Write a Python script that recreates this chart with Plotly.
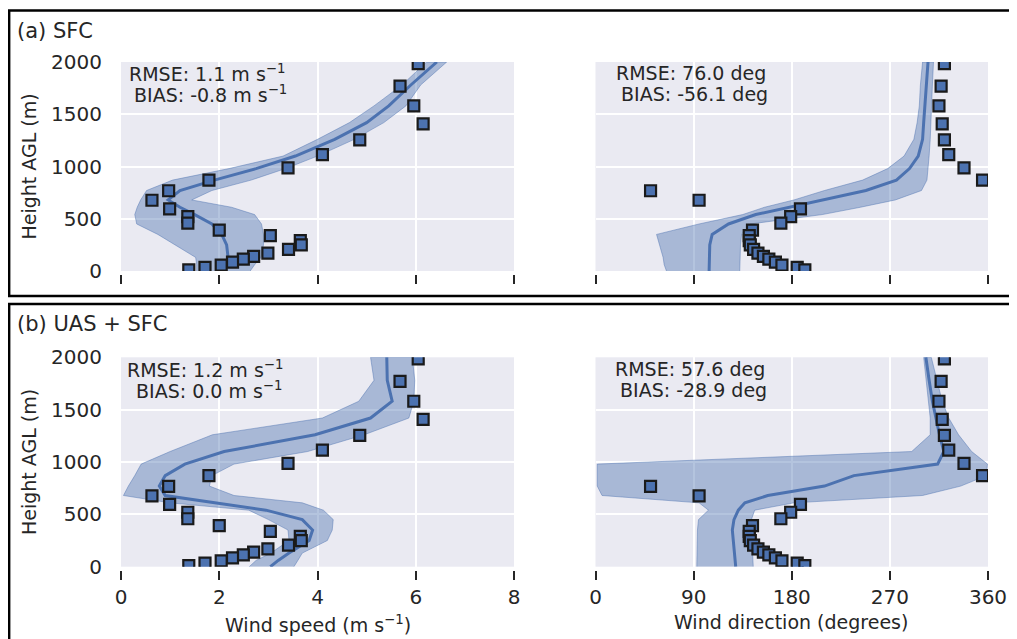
import plotly.graph_objects as go

# ---------------- data ----------------
# model levels (m AGL)
model_h = [0, 60, 130, 250, 350, 450, 540, 610, 680, 770, 870, 980, 1100, 1260, 1420, 1580, 1780, 2000]

# (a) SFC : wind speed (m/s)
sfc_spd_mean = [2.10, 2.16, 2.18, 2.15, 2.05, 1.85, 1.50, 1.20, 0.96, 1.20, 1.90, 2.75, 3.55, 4.35, 5.00, 5.45, 5.90, 6.43]
sfc_spd_lo = [1.54, 1.54, 1.52, 1.10, 0.75, 0.32, 0.28, 0.33, 0.40, 0.52, 1.05, 2.20, 3.30, 4.00, 4.65, 5.15, 5.72, 6.22]
sfc_spd_hi = [2.63, 2.72, 2.85, 2.90, 2.90, 2.86, 2.72, 2.25, 1.44, 1.85, 2.65, 3.35, 4.00, 4.75, 5.35, 5.80, 6.10, 6.63]
# (a) SFC : wind direction (deg)
sfc_dir_mean = [104.2, 104.2, 104.5, 104.8, 107.0, 122.0, 147.0, 178.0, 208.0, 248.0, 276.0, 288.0, 296.0, 300.0, 301.0, 302.0, 303.0, 305.0]
sfc_dir_lo = [65.1, 63.0, 62.0, 59.0, 56.0, 95.0, 135.0, 155.0, 182.0, 210.0, 245.0, 268.0, 283.0, 292.0, 295.0, 297.0, 298.0, 300.0]
sfc_dir_hi = [132.3, 132.3, 132.5, 133.0, 134.0, 142.0, 208.0, 243.0, 275.0, 299.0, 304.0, 305.0, 306.0, 307.0, 308.0, 308.5, 309.0, 310.0]

# (b) UAS + SFC : wind speed (m/s)
uas_spd_mean = [3.04, 3.20, 3.42, 3.83, 3.90, 3.69, 2.95, 1.95, 0.90, 0.78, 0.90, 1.30, 2.10, 3.95, 5.08, 5.52, 5.42, 5.41]
uas_spd_lo = [2.61, 2.75, 3.05, 3.42, 3.40, 3.00, 2.60, 1.00, 0.05, 0.15, 0.28, 0.41, 1.00, 1.86, 4.10, 4.84, 5.15, 5.08]
uas_spd_hi = [3.52, 3.60, 3.69, 4.20, 4.30, 4.32, 4.12, 3.69, 2.30, 1.80, 1.85, 2.30, 3.80, 4.95, 5.86, 5.96, 5.98, 5.93]
# (b) UAS + SFC : wind direction (deg)
uas_dir_mean = [128.6, 128.0, 127.5, 126.5, 125.5, 127.0, 131.0, 137.0, 158.0, 210.0, 237.0, 313.8, 319.5, 315.5, 312.0, 309.0, 306.0, 303.0]
uas_dir_lo = [92.9, 92.9, 92.9, 92.9, 93.5, 94.5, 103.6, 95.0, 6.0, 1.6, 1.6, 1.6, 290.0, 307.0, 307.0, 305.5, 303.5, 301.0]
uas_dir_hi = [144.7, 144.5, 144.0, 143.5, 143.0, 143.0, 146.0, 182.0, 300.0, 335.0, 358.5, 359.5, 345.0, 333.0, 324.0, 318.0, 313.0, 308.0]

# observations
obs_h = [1985, 1770, 1580, 1407, 1254, 1113, 986, 870, 768, 677, 595, 520, 458, 392, 338, 290, 250, 206, 171, 139, 113, 85, 56, 34, 11]
obs_speed = [6.05, 5.68, 5.96, 6.15, 4.86, 4.10, 3.40, 1.79, 0.97, 0.63, 0.99, 1.36, 1.36, 2.00, 3.04, 3.65, 3.67, 3.41, 2.99, 2.70, 2.49, 2.27, 2.04, 1.71, 1.38]
obs_dir = [320, 317, 315, 318, 320, 324, 338, 355, 50.5, 95, 188, 179, 170, 144, 141, 141, 142, 145, 149, 154, 159, 165, 171, 185, 192]

# statistics text
stats_text = [
    ("RMSE: 1.1 m s<sup>−1</sup>", "BIAS: -0.8 m s<sup>−1</sup>"),
    ("RMSE: 76.0 deg", "BIAS: -56.1 deg"),
    ("RMSE: 1.2 m s<sup>−1</sup>", "BIAS: 0.0 m s<sup>−1</sup>"),
    ("RMSE: 57.6 deg", "BIAS: -28.9 deg"),
]
panel_titles = ["(a) SFC", "(b) UAS + SFC"]
speed_ticks = [0, 2, 4, 6, 8]
dir_ticks = [0, 90, 180, 270, 360]
height_ticks = [0, 500, 1000, 1500, 2000]

# ---------------- layout helpers ----------------
# the page body has an 8px margin, so the figure starts at (8, 8) in the window
OFF = 8
W, H = 1017 - OFF, 639 - OFF
def fx(px):
    return (px - OFF) / W
def fy(py):
    return 1 - (py - OFF) / H

BLUE = "#4C72B0"
BAND = "rgba(76,114,176,0.42)"
BAND_EDGE = "rgba(76,114,176,0.45)"
TXT = "#262626"
FONT = "DejaVu Sans"

fig = go.Figure()

panels = [
    ("x", "y", sfc_spd_mean, sfc_spd_lo, sfc_spd_hi, obs_speed),
    ("x2", "y2", sfc_dir_mean, sfc_dir_lo, sfc_dir_hi, obs_dir),
    ("x3", "y3", uas_spd_mean, uas_spd_lo, uas_spd_hi, obs_speed),
    ("x4", "y4", uas_dir_mean, uas_dir_lo, uas_dir_hi, obs_dir),
]
for xa, ya, mean, lo, hi, obs in panels:
    fig.add_trace(go.Scatter(
        x=list(lo) + list(hi)[::-1], y=list(model_h) + list(model_h)[::-1],
        mode="lines", fill="toself", fillcolor=BAND,
        line=dict(color=BAND_EDGE, width=1),
        xaxis=xa, yaxis=ya, showlegend=False, hoverinfo="skip"))
    fig.add_trace(go.Scatter(
        x=mean, y=model_h, mode="lines", line=dict(color=BLUE, width=3),
        xaxis=xa, yaxis=ya, showlegend=False))
    fig.add_trace(go.Scatter(
        x=obs, y=obs_h, mode="markers",
        marker=dict(symbol="square", size=11, color=BLUE,
                    line=dict(color="#1a1a1a", width=2.2)),
        xaxis=xa, yaxis=ya, showlegend=False))

xdom_l = [fx(121), fx(514)]
xdom_r = [fx(595.5), fx(988)]
ydom_t = [fy(271), fy(62)]
ydom_b = [fy(566.7), fy(357.3)]

def xax(dom, rng, ticks, pos, labels):
    return dict(domain=dom, range=rng, tickvals=ticks, anchor="free", position=pos,
                automargin=False,
                showgrid=True, gridcolor="white", gridwidth=1.6, zeroline=False,
                showline=False, ticks="outside", ticklen=9, tickwidth=2,
                tickcolor=TXT, showticklabels=labels,
                tickfont=dict(family=FONT, size=20, color=TXT))

def yax(dom, anchor, labels):
    return dict(domain=dom, range=[0, 2000], tickvals=height_ticks, anchor=anchor,
                automargin=False,
                showgrid=True, gridcolor="white", gridwidth=1.6, zeroline=False,
                showline=False, ticks="outside" if labels else "", ticklen=14,
                tickcolor="rgba(0,0,0,0)", showticklabels=labels,
                tickfont=dict(family=FONT, size=20, color=TXT))

pos_t = fy(274)
pos_b = fy(570)

annotations = []
def ann(text, x, y, size=19, xanchor="center", angle=0):
    annotations.append(dict(text=text, x=x, y=y, xref="paper", yref="paper",
                            xanchor=xanchor, yanchor="middle", showarrow=False,
                            textangle=angle, font=dict(family=FONT, size=size, color=TXT)))

# stats
centers = [(207, 73, 94), (691, 73, 94), (205, 369, 390), (690, 369, 390)]
for (r, b), (cx, y1, y2) in zip(stats_text, centers):
    ann(r, fx(cx), fy(y1))
    ann(b, fx(cx + 3.5), fy(y2))

# panel titles
ann(panel_titles[0], fx(15), fy(31), size=21, xanchor="left")
ann(panel_titles[1], fx(15), fy(324), size=21, xanchor="left")
# axis titles
ann("Height AGL (m)", fx(29), fy(166.5), angle=-90)
ann("Height AGL (m)", fx(29), fy(462), angle=-90)
ann("Wind speed (m s<sup>−1</sup>)", fx(317.5), fy(624))
ann("Wind direction (degrees)", fx(791), fy(622))

shapes = [
    dict(type="rect", xref="paper", yref="paper", x0=fx(9.2), x1=1.05, y0=fy(296), y1=fy(10.5),
         line=dict(color="black", width=2.4), fillcolor="rgba(0,0,0,0)", layer="below"),
    dict(type="rect", xref="paper", yref="paper", x0=fx(9.2), x1=1.05, y0=-0.05, y1=fy(304),
         line=dict(color="black", width=2.4), fillcolor="rgba(0,0,0,0)", layer="below"),
]

fig.update_layout(
    template="none",
    width=W, height=H, margin=dict(l=0, r=0, t=0, b=0, pad=0),
    paper_bgcolor="white", plot_bgcolor="#EAEAF2",
    xaxis=xax(xdom_l, [0, 8], speed_ticks, pos_t, False),
    xaxis2=xax(xdom_r, [0, 360], dir_ticks, pos_t, False),
    xaxis3=xax(xdom_l, [0, 8], speed_ticks, pos_b, True),
    xaxis4=xax(xdom_r, [0, 360], dir_ticks, pos_b, True),
    yaxis=yax(ydom_t, "x", True),
    yaxis2=yax(ydom_t, "x2", False),
    yaxis3=yax(ydom_b, "x3", True),
    yaxis4=yax(ydom_b, "x4", False),
    annotations=annotations, shapes=shapes,
    font=dict(family=FONT, color=TXT),
    showlegend=False,
)

fig.write_html("out.html")
